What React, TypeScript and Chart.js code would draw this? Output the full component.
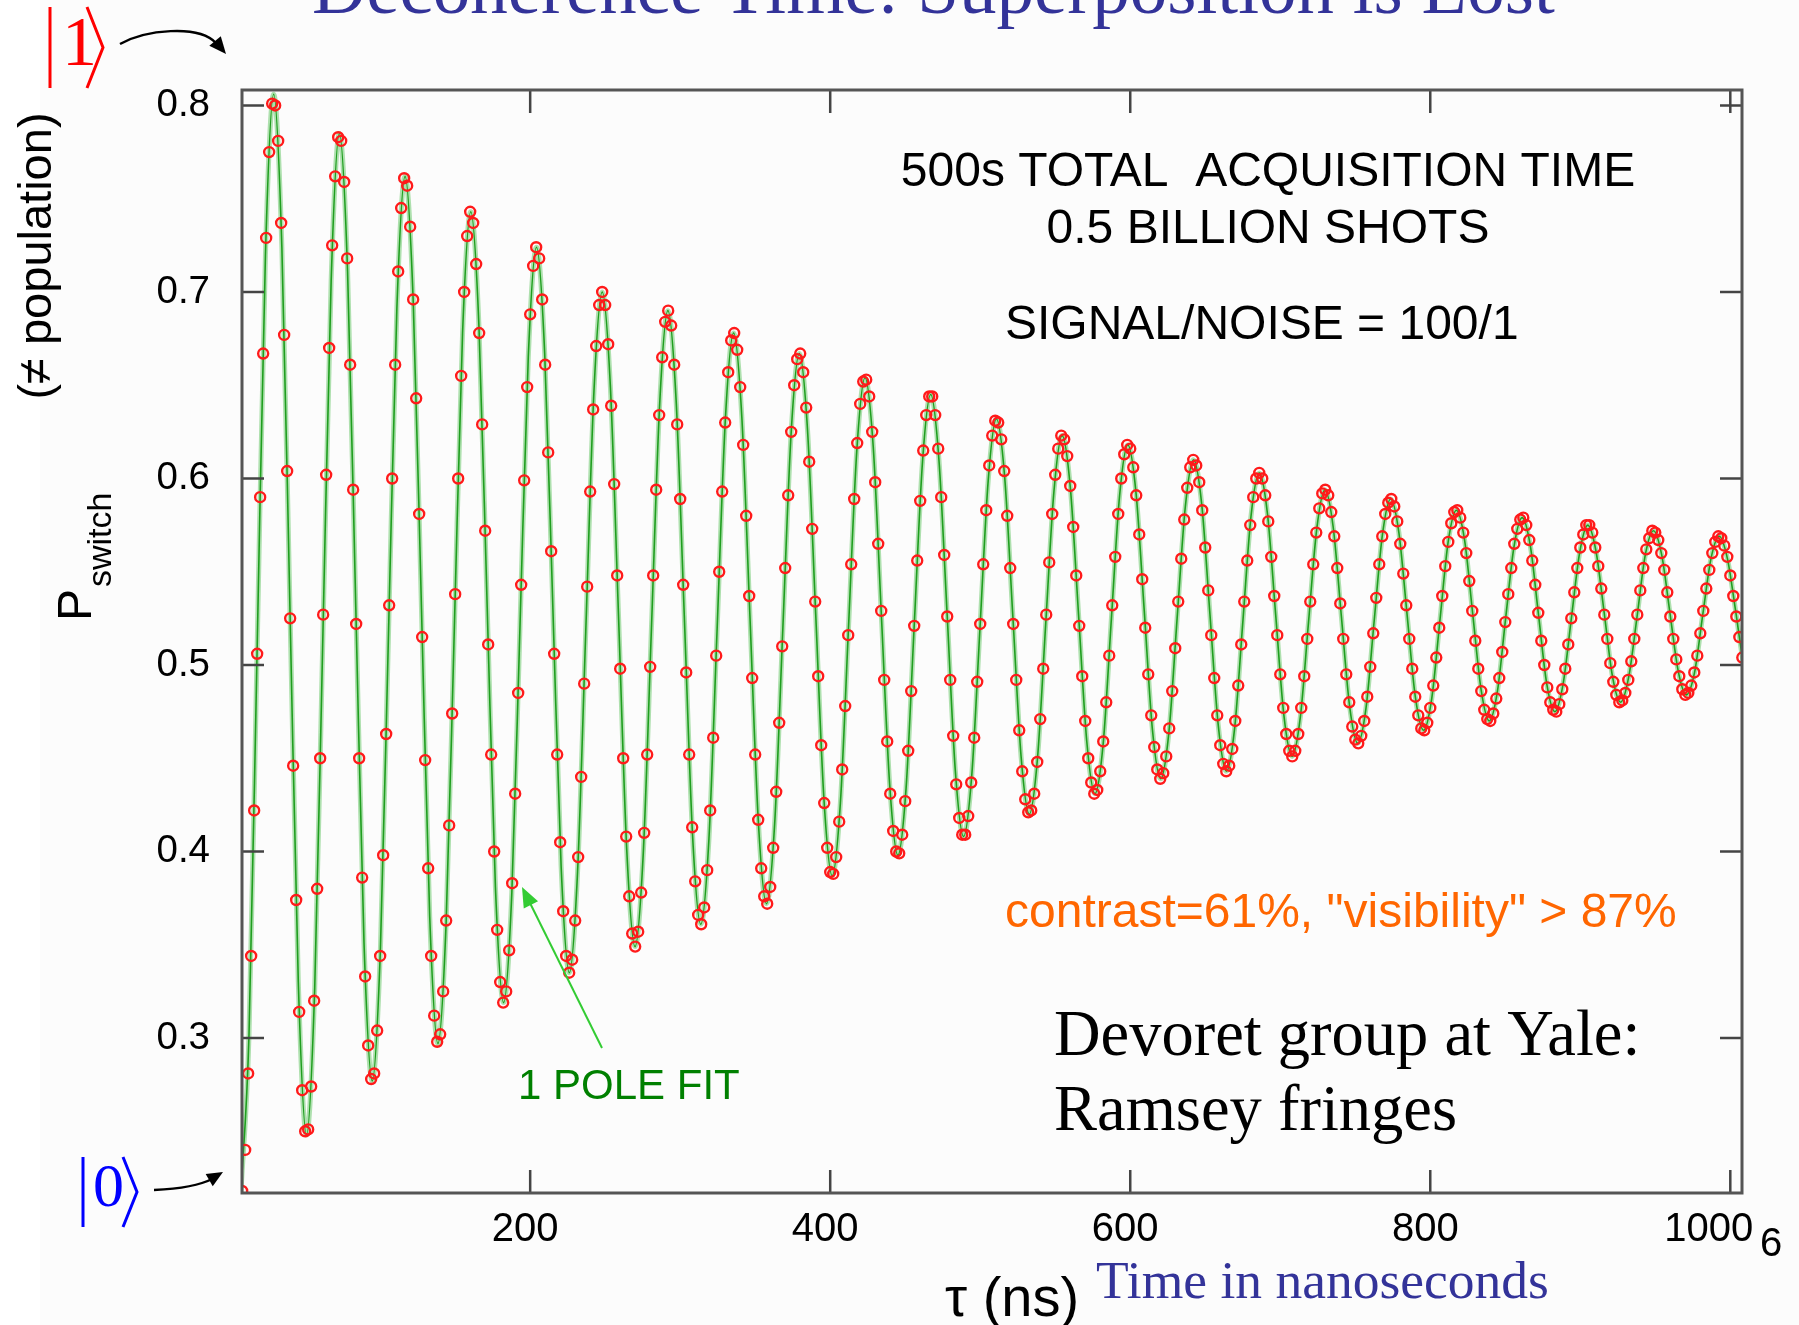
import React, { useEffect, useRef } from "react";
import { Chart, registerables } from "chart.js";

Chart.register(...registerables);

// Ramsey fringe measurement: delay tau (ns) and switching probability
const TAU_NS = [
  8, 10, 12, 14, 16, 18, 20, 22, 24, 26, 28, 30, 32, 34, 36, 38, 40, 42, 44, 46, 48, 50, 52, 54, 56,
  58, 60, 62, 64, 66, 68, 70, 72, 74, 76, 78, 80, 82, 84, 86, 88, 90, 92, 94, 96, 98, 100, 102, 104, 106,
  108, 110, 112, 114, 116, 118, 120, 122, 124, 126, 128, 130, 132, 134, 136, 138, 140, 142, 144, 146, 148, 150, 152, 154, 156,
  158, 160, 162, 164, 166, 168, 170, 172, 174, 176, 178, 180, 182, 184, 186, 188, 190, 192, 194, 196, 198, 200, 202, 204, 206,
  208, 210, 212, 214, 216, 218, 220, 222, 224, 226, 228, 230, 232, 234, 236, 238, 240, 242, 244, 246, 248, 250, 252, 254, 256,
  258, 260, 262, 264, 266, 268, 270, 272, 274, 276, 278, 280, 282, 284, 286, 288, 290, 292, 294, 296, 298, 300, 302, 304, 306,
  308, 310, 312, 314, 316, 318, 320, 322, 324, 326, 328, 330, 332, 334, 336, 338, 340, 342, 344, 346, 348, 350, 352, 354, 356,
  358, 360, 362, 364, 366, 368, 370, 372, 374, 376, 378, 380, 382, 384, 386, 388, 390, 392, 394, 396, 398, 400, 402, 404, 406,
  408, 410, 412, 414, 416, 418, 420, 422, 424, 426, 428, 430, 432, 434, 436, 438, 440, 442, 444, 446, 448, 450, 452, 454, 456,
  458, 460, 462, 464, 466, 468, 470, 472, 474, 476, 478, 480, 482, 484, 486, 488, 490, 492, 494, 496, 498, 500, 502, 504, 506,
  508, 510, 512, 514, 516, 518, 520, 522, 524, 526, 528, 530, 532, 534, 536, 538, 540, 542, 544, 546, 548, 550, 552, 554, 556,
  558, 560, 562, 564, 566, 568, 570, 572, 574, 576, 578, 580, 582, 584, 586, 588, 590, 592, 594, 596, 598, 600, 602, 604, 606,
  608, 610, 612, 614, 616, 618, 620, 622, 624, 626, 628, 630, 632, 634, 636, 638, 640, 642, 644, 646, 648, 650, 652, 654, 656,
  658, 660, 662, 664, 666, 668, 670, 672, 674, 676, 678, 680, 682, 684, 686, 688, 690, 692, 694, 696, 698, 700, 702, 704, 706,
  708, 710, 712, 714, 716, 718, 720, 722, 724, 726, 728, 730, 732, 734, 736, 738, 740, 742, 744, 746, 748, 750, 752, 754, 756,
  758, 760, 762, 764, 766, 768, 770, 772, 774, 776, 778, 780, 782, 784, 786, 788, 790, 792, 794, 796, 798, 800, 802, 804, 806,
  808, 810, 812, 814, 816, 818, 820, 822, 824, 826, 828, 830, 832, 834, 836, 838, 840, 842, 844, 846, 848, 850, 852, 854, 856,
  858, 860, 862, 864, 866, 868, 870, 872, 874, 876, 878, 880, 882, 884, 886, 888, 890, 892, 894, 896, 898, 900, 902, 904, 906,
  908, 910, 912, 914, 916, 918, 920, 922, 924, 926, 928, 930, 932, 934, 936, 938, 940, 942, 944, 946, 948, 950, 952, 954, 956,
  958, 960, 962, 964, 966, 968, 970, 972, 974, 976, 978, 980, 982, 984, 986, 988, 990, 992, 994, 996, 998, 1000, 1002, 1004, 1006,
  1008,
];

const P_SWITCH = [
  0.218, 0.240, 0.281, 0.344, 0.422, 0.506, 0.590, 0.667, 0.729, 0.775, 0.801,
  0.800, 0.781, 0.737, 0.677, 0.604, 0.525, 0.446, 0.374, 0.314, 0.272, 0.250,
  0.251, 0.274, 0.320, 0.380, 0.450, 0.527, 0.602, 0.670, 0.725, 0.762, 0.783,
  0.781, 0.759, 0.718, 0.661, 0.594, 0.522, 0.450, 0.386, 0.333, 0.296, 0.278,
  0.281, 0.304, 0.344, 0.398, 0.463, 0.532, 0.600, 0.661, 0.711, 0.745, 0.761,
  0.757, 0.735, 0.696, 0.643, 0.581, 0.515, 0.449, 0.391, 0.344, 0.312, 0.298,
  0.302, 0.325, 0.363, 0.414, 0.474, 0.538, 0.600, 0.655, 0.700, 0.730, 0.743,
  0.737, 0.715, 0.678, 0.629, 0.572, 0.511, 0.452, 0.400, 0.358, 0.330, 0.319,
  0.325, 0.347, 0.383, 0.431, 0.485, 0.543, 0.599, 0.649, 0.688, 0.714, 0.724,
  0.718, 0.696, 0.661, 0.614, 0.561, 0.506, 0.452, 0.405, 0.368, 0.344, 0.335,
  0.342, 0.363, 0.397, 0.440, 0.490, 0.542, 0.593, 0.637, 0.671, 0.693,
  0.700, 0.693, 0.672, 0.639, 0.597, 0.548, 0.498, 0.450, 0.408, 0.376, 0.356,
  0.349, 0.357, 0.378, 0.410, 0.452, 0.499, 0.548, 0.594, 0.634, 0.665, 0.684,
  0.690, 0.682, 0.661, 0.629, 0.589, 0.543, 0.496, 0.452, 0.413, 0.384, 0.366,
  0.361, 0.370, 0.390, 0.422, 0.461, 0.505, 0.550, 0.593, 0.630, 0.657, 0.674,
  0.678, 0.669, 0.649, 0.618, 0.580, 0.537, 0.493, 0.452, 0.417, 0.391, 0.376,
  0.372, 0.381, 0.402, 0.432, 0.469, 0.510, 0.552, 0.591, 0.625, 0.650, 0.664,
  0.667, 0.657, 0.638, 0.609, 0.573, 0.534, 0.494, 0.457, 0.426, 0.402, 0.389,
  0.388, 0.397, 0.416, 0.444, 0.478, 0.516, 0.554, 0.589, 0.619, 0.640, 0.652,
  0.653, 0.644, 0.625, 0.598, 0.565, 0.529, 0.492, 0.459, 0.431, 0.411, 0.400,
  0.399, 0.409, 0.427, 0.454, 0.486, 0.521, 0.556, 0.588, 0.615, 0.634, 0.644,
  0.644, 0.634, 0.616, 0.590, 0.559, 0.526, 0.492, 0.462, 0.436, 0.418, 0.409,
  0.409, 0.419, 0.437, 0.461, 0.491, 0.522, 0.554, 0.583, 0.607, 0.623, 0.631,
  0.630, 0.621, 0.604, 0.580, 0.552, 0.522, 0.492, 0.465, 0.443, 0.428, 0.421,
  0.422, 0.431, 0.448, 0.471, 0.498, 0.527, 0.555, 0.581, 0.602, 0.616, 0.623,
  0.621, 0.612, 0.596, 0.574, 0.548, 0.521, 0.494, 0.470, 0.450, 0.437, 0.431,
  0.433, 0.443, 0.459, 0.480, 0.505, 0.532, 0.558, 0.581, 0.600, 0.613, 0.618,
  0.616, 0.606, 0.591, 0.570, 0.546, 0.520, 0.495, 0.473, 0.456, 0.444, 0.439,
  0.442, 0.451, 0.466, 0.486, 0.509, 0.534, 0.557, 0.578, 0.595, 0.606, 0.610,
  0.607, 0.598, 0.583, 0.563, 0.540, 0.516, 0.493, 0.473, 0.457, 0.447, 0.443,
  0.446, 0.455, 0.470, 0.489, 0.511, 0.534, 0.556, 0.575, 0.590, 0.600,
  0.603, 0.600, 0.591, 0.577, 0.558, 0.537, 0.516, 0.495, 0.477, 0.463, 0.454,
  0.451, 0.454, 0.463, 0.477, 0.494, 0.514, 0.534, 0.554, 0.571, 0.584, 0.592,
  0.594, 0.591, 0.582, 0.569, 0.552, 0.533, 0.514, 0.495, 0.480, 0.467, 0.460,
  0.458, 0.462, 0.470, 0.483, 0.499, 0.517, 0.536, 0.554, 0.569, 0.581, 0.587,
  0.589, 0.585, 0.577, 0.565, 0.549, 0.532, 0.514, 0.498, 0.483, 0.473, 0.466,
  0.465, 0.469, 0.477, 0.489, 0.504, 0.520, 0.537, 0.553, 0.566, 0.576, 0.582,
  0.583, 0.579, 0.571, 0.560, 0.545, 0.529, 0.513, 0.498, 0.486, 0.476, 0.471,
  0.470, 0.474, 0.482, 0.493, 0.507, 0.523, 0.538, 0.552, 0.565, 0.573, 0.578,
  0.579, 0.575, 0.567, 0.556, 0.543, 0.528, 0.513, 0.500, 0.488, 0.480, 0.476,
  0.475, 0.479, 0.487, 0.498, 0.511, 0.525, 0.539, 0.552, 0.563, 0.570, 0.575,
  0.575, 0.571, 0.563, 0.553, 0.541, 0.527, 0.514, 0.501, 0.491, 0.484, 0.480,
  0.481, 0.485, 0.492, 0.502, 0.514, 0.527, 0.540, 0.552, 0.562, 0.568, 0.572,
  0.571, 0.567, 0.560, 0.551, 0.539, 0.526, 0.514, 0.503, 0.494, 0.487, 0.484,
  0.485, 0.489, 0.496, 0.505, 0.517, 0.529, 0.541, 0.551, 0.560, 0.566, 0.569,
  0.568, 0.564, 0.558, 0.548, 0.537, 0.526, 0.515, 0.504,
];

// "1 pole fit" curve, read at its extrema and the points between them
const FIT_TAU_NS = [
  7.1, 12.58, 18.05, 23.53, 29.0, 34.48, 39.95, 45.43, 50.9, 56.38, 61.85, 67.33,
  72.8, 78.28, 83.75, 89.23, 94.7, 100.18, 105.65, 111.13, 116.6, 122.08, 127.55, 133.03,
  138.5, 143.98, 149.45, 154.93, 160.4, 165.88, 171.35, 176.83, 182.3, 187.78, 193.25, 198.73,
  204.2, 209.68, 215.15, 220.63, 226.1, 231.58, 237.05, 242.53, 248.0, 253.48, 258.95, 264.43,
  269.9, 275.38, 280.85, 286.33, 291.8, 297.28, 302.75, 308.23, 313.7, 319.18, 324.65, 330.13,
  335.6, 341.08, 346.55, 352.03, 357.5, 362.98, 368.45, 373.93, 379.4, 384.88, 390.35, 395.83,
  401.3, 406.78, 412.25, 417.73, 423.2, 428.68, 434.15, 439.63, 445.1, 450.58, 456.05, 461.53,
  467.0, 472.48, 477.95, 483.43, 488.9, 494.38, 499.85, 505.33, 510.8, 516.28, 521.75, 527.23,
  532.7, 538.18, 543.65, 549.13, 554.6, 560.08, 565.55, 571.03, 576.5, 581.98, 587.45, 592.93,
  598.4, 603.88, 609.35, 614.83, 620.3, 625.78, 631.25, 636.73, 642.2, 647.68, 653.15, 658.63,
  664.1, 669.58, 675.05, 680.53, 686.0, 691.48, 696.95, 702.43, 707.9, 713.38, 718.85, 724.33,
  729.8, 735.28, 740.75, 746.23, 751.7, 757.18, 762.65, 768.13, 773.6, 779.08, 784.55, 790.03,
  795.5, 800.98, 806.45, 811.93, 817.4, 822.88, 828.35, 833.83, 839.3, 844.78, 850.25, 855.73,
  861.2, 866.68, 872.15, 877.63, 883.1, 888.58, 894.05, 899.53, 905.0, 910.48, 915.95, 921.43,
  926.9, 932.38, 937.85, 943.33, 948.8, 954.28, 959.75, 965.23, 970.7, 976.18, 981.65, 987.13,
  992.6, 998.08, 1003.55, 1009.03, 1014.5,
];

const FIT_P_SWITCH = [
  0.216, 0.302, 0.511, 0.720, 0.806, 0.724, 0.527, 0.330, 0.248, 0.327, 0.517, 0.706,
  0.785, 0.711, 0.531, 0.351, 0.277, 0.348, 0.520, 0.691, 0.762, 0.694, 0.530, 0.365,
  0.297, 0.362, 0.520, 0.678, 0.743, 0.681, 0.531, 0.381, 0.319, 0.378, 0.522, 0.665,
  0.724, 0.667, 0.530, 0.392, 0.335, 0.389, 0.518, 0.647, 0.700, 0.649, 0.525, 0.400,
  0.349, 0.399, 0.520, 0.640, 0.690, 0.642, 0.526, 0.409, 0.361, 0.407, 0.520, 0.632,
  0.678, 0.633, 0.525, 0.417, 0.372, 0.415, 0.520, 0.624, 0.667, 0.626, 0.527, 0.428,
  0.387, 0.426, 0.521, 0.615, 0.654, 0.617, 0.526, 0.436, 0.398, 0.434, 0.522, 0.609,
  0.645, 0.610, 0.527, 0.443, 0.408, 0.441, 0.520, 0.599, 0.632, 0.601, 0.526, 0.451,
  0.420, 0.450, 0.522, 0.593, 0.623, 0.595, 0.527, 0.459, 0.431, 0.458, 0.525, 0.591,
  0.618, 0.592, 0.529, 0.465, 0.439, 0.464, 0.525, 0.585, 0.610, 0.586, 0.527, 0.468,
  0.443, 0.466, 0.523, 0.580, 0.603, 0.581, 0.527, 0.473, 0.451, 0.472, 0.523, 0.573,
  0.594, 0.574, 0.526, 0.478, 0.458, 0.477, 0.524, 0.570, 0.589, 0.571, 0.527, 0.483,
  0.465, 0.482, 0.524, 0.566, 0.583, 0.567, 0.527, 0.487, 0.470, 0.486, 0.525, 0.563,
  0.579, 0.564, 0.527, 0.490, 0.475, 0.490, 0.525, 0.560, 0.575, 0.561, 0.528, 0.494,
  0.480, 0.494, 0.526, 0.559, 0.572, 0.559, 0.528, 0.497, 0.484, 0.496, 0.527, 0.557,
  0.569, 0.557, 0.529, 0.500, 0.488,
];

const X_TICKS = [200, 400, 600, 800, 1000];
const Y_TICKS = [0.3, 0.4, 0.5, 0.6, 0.7, 0.8];
const X_MIN = 7.9;
const X_MAX = 1007.8;
const Y_MIN = 0.2169;
const Y_MAX = 0.8083;

const SANS = '"Liberation Sans", Arial, Helvetica, sans-serif';
const SERIF = '"Liberation Serif", "Times New Roman", serif';

function arrowHead(ctx: CanvasRenderingContext2D, tipX: number, tipY: number, dx: number, dy: number, len: number, half: number) {
  const n = Math.hypot(dx, dy);
  const ux = dx / n;
  const uy = dy / n;
  const bx = tipX - ux * len;
  const by = tipY - uy * len;
  ctx.beginPath();
  ctx.moveTo(tipX, tipY);
  ctx.lineTo(bx - uy * half, by + ux * half);
  ctx.lineTo(bx + uy * half, by - ux * half);
  ctx.closePath();
  ctx.fill();
}

export default function App() {
  const ref = useRef<HTMLCanvasElement | null>(null);

  useEffect(() => {
    const canvas = ref.current;
    if (!canvas) return;

    const decor = {
      id: "decor",
      beforeDraw(chart: any) {
        const ctx = chart.ctx;
        ctx.save();
        ctx.fillStyle = "#ffffff";
        ctx.fillRect(0, 0, chart.width, chart.height);
        ctx.fillStyle = "#fcfcfc";
        ctx.fillRect(40, 0, chart.width - 40, chart.height);
        ctx.restore();
      },
      afterDatasetsDraw(chart: any) {
        const ctx = chart.ctx;
        const { left, right, top, bottom } = chart.chartArea;
        const xs = chart.scales.x;
        const ys = chart.scales.y;
        ctx.save();
        ctx.strokeStyle = "#444444";
        ctx.lineWidth = 2.5;
        ctx.beginPath();
        for (const v of X_TICKS) {
          const px = xs.getPixelForValue(v);
          ctx.moveTo(px, bottom);
          ctx.lineTo(px, bottom - 23);
          ctx.moveTo(px, top);
          ctx.lineTo(px, top + 23);
        }
        for (const v of Y_TICKS) {
          const py = ys.getPixelForValue(v);
          ctx.moveTo(left, py);
          ctx.lineTo(left + 22, py);
          ctx.moveTo(right, py);
          ctx.lineTo(right - 22, py);
        }
        ctx.stroke();
        ctx.strokeStyle = "#555555";
        ctx.lineWidth = 3;
        ctx.strokeRect(left, top, right - left, bottom - top);
        ctx.restore();
      },
      afterDraw(chart: any) {
        const ctx: CanvasRenderingContext2D = chart.ctx;
        ctx.save();
        ctx.textBaseline = "alphabetic";

        // slide title (cut at the top edge)
        ctx.fillStyle = "#333399";
        ctx.font = `75px ${SERIF}`;
        ctx.textAlign = "left";
        ctx.fillText("Decoherence Time: Superposition is Lost", 312, 13);

        // |1> ket
        ctx.strokeStyle = "#ff0000";
        ctx.fillStyle = "#ff0000";
        ctx.lineWidth = 3;
        ctx.beginPath();
        ctx.moveTo(50, 7);
        ctx.lineTo(50, 88);
        ctx.moveTo(87, 7);
        ctx.lineTo(103, 47.5);
        ctx.lineTo(87, 88);
        ctx.stroke();
        ctx.font = `70px ${SERIF}`;
        ctx.fillText("1", 62, 65);

        // |0> ket
        ctx.strokeStyle = "#0000ff";
        ctx.fillStyle = "#0000ff";
        ctx.beginPath();
        ctx.moveTo(83, 1157);
        ctx.lineTo(83, 1227);
        ctx.moveTo(123, 1157);
        ctx.lineTo(137, 1192);
        ctx.lineTo(123, 1227);
        ctx.stroke();
        ctx.font = `62px ${SERIF}`;
        ctx.fillText("0", 93, 1206);

        // black arrows to the corners
        ctx.strokeStyle = "#000000";
        ctx.fillStyle = "#000000";
        ctx.lineWidth = 2.5;
        ctx.beginPath();
        ctx.moveTo(120, 44);
        ctx.bezierCurveTo(145, 30, 198, 24, 216, 43);
        ctx.stroke();
        arrowHead(ctx, 226, 54, 16, 19, 17, 7.5);
        ctx.beginPath();
        ctx.moveTo(154, 1190);
        ctx.quadraticCurveTo(195, 1188, 212, 1179);
        ctx.stroke();
        arrowHead(ctx, 223, 1172, 17, -10, 16, 7);

        // y-axis titles (rotated)
        ctx.fillStyle = "#000000";
        ctx.save();
        ctx.translate(51, 256);
        ctx.rotate(-Math.PI / 2);
        ctx.textAlign = "center";
        ctx.font = `47px ${SANS}`;
        ctx.fillText("(\u2260 population)", 0, 0);
        ctx.restore();

        ctx.save();
        ctx.translate(91, 621);
        ctx.rotate(-Math.PI / 2);
        ctx.textAlign = "left";
        ctx.font = `48px ${SANS}`;
        ctx.fillText("P", 0, 0);
        const pw = ctx.measureText("P").width;
        ctx.font = `34px ${SANS}`;
        ctx.fillText("switch", pw + 2, 20);
        ctx.restore();

        // annotations inside the plot
        ctx.font = `48px ${SANS}`;
        ctx.textAlign = "center";
        ctx.fillText("500s TOTAL  ACQUISITION TIME", 1268, 186);
        ctx.fillText("0.5 BILLION SHOTS", 1268, 243);
        ctx.textAlign = "left";
        ctx.fillText("SIGNAL/NOISE = 100/1", 1005, 339);

        ctx.fillStyle = "#ff6600";
        ctx.fillText('contrast=61%, "visibility" > 87%', 1005, 927);

        ctx.fillStyle = "#000000";
        ctx.font = `64.5px ${SERIF}`;
        ctx.fillText("Devoret group at Yale:", 1054, 1055);
        ctx.fillText("Ramsey fringes", 1054, 1130);

        ctx.fillStyle = "#008000";
        ctx.font = `42px ${SANS}`;
        ctx.fillText("1 POLE FIT", 518, 1099);

        ctx.strokeStyle = "#33cc33";
        ctx.fillStyle = "#33cc33";
        ctx.lineWidth = 2;
        ctx.beginPath();
        ctx.moveTo(602, 1048);
        ctx.lineTo(530, 903);
        ctx.stroke();
        arrowHead(ctx, 522, 887, -80, -161, 20, 8);

        // x-axis titles
        ctx.fillStyle = "#000000";
        ctx.font = `56px ${SANS}`;
        ctx.fillText("\u03c4 (ns)", 945, 1316);
        ctx.fillStyle = "#333399";
        ctx.font = `53.5px ${SERIF}`;
        ctx.fillText("Time in nanoseconds", 1096, 1298);
        ctx.fillStyle = "#000000";
        ctx.font = `40px ${SANS}`;
        ctx.fillText("6", 1760, 1256);

        ctx.restore();
      },
    };

    const chart = new Chart(canvas, {
      type: "line",
      data: {
        datasets: [
          {
            label: "P switch",
            data: TAU_NS.map((x, i) => ({ x, y: P_SWITCH[i] })),
            showLine: false,
            pointRadius: 5,
            pointBorderWidth: 2.4,
            pointBorderColor: "#ff1a1a",
            pointBackgroundColor: "rgba(0,0,0,0)",
            borderColor: "#ff1a1a",
            order: 0,
          },
          {
            label: "1 pole fit",
            data: FIT_TAU_NS.map((x, i) => ({ x, y: FIT_P_SWITCH[i] })),
            borderColor: "#1f9e1f",
            borderWidth: 1.6,
            pointRadius: 0,
            cubicInterpolationMode: "monotone",
            order: 1,
          },
          {
            label: "1 pole fit halo",
            data: FIT_TAU_NS.map((x, i) => ({ x, y: FIT_P_SWITCH[i] })),
            borderColor: "rgba(110,200,110,0.55)",
            borderWidth: 5,
            pointRadius: 0,
            cubicInterpolationMode: "monotone",
            order: 2,
          },
        ],
      },
      options: {
        responsive: false,
        animation: false,
        events: [],
        layout: { padding: { left: 0, top: 90, right: 57, bottom: 0 } },
        plugins: { legend: { display: false }, tooltip: { enabled: false }, title: { display: false } },
        scales: {
          x: {
            type: "linear",
            min: X_MIN,
            max: X_MAX,
            afterFit: (s: any) => {
              s.height = 132;
              s.paddingLeft = 0;
              s.paddingRight = 0;
            },
            afterBuildTicks: (s: any) => {
              s.ticks = X_TICKS.map((v) => ({ value: v }));
            },
            grid: { display: false, drawTicks: false },
            border: { display: false },
            ticks: {
              color: "#000000",
              font: { family: SANS, size: 40 },
              padding: 13,
              labelOffset: -5,
              maxRotation: 0,
              minRotation: 0,
              autoSkip: false,
              callback: (v: any) => (Number(v) === 1000 ? "1000   " : String(v)),
            },
          },
          y: {
            type: "linear",
            min: Y_MIN,
            max: Y_MAX,
            afterFit: (s: any) => {
              s.width = 242;
              s.paddingTop = 0;
              s.paddingBottom = 0;
            },
            afterBuildTicks: (s: any) => {
              s.ticks = Y_TICKS.map((v) => ({ value: v }));
            },
            grid: { display: false, drawTicks: false },
            border: { display: false },
            ticks: {
              color: "#000000",
              font: { family: SANS, size: 38.5 },
              padding: 32,
              autoSkip: false,
              callback: (v: any) => Number(v).toFixed(1),
            },
          },
        },
      },
      plugins: [decor],
    } as any);

    return () => chart.destroy();
  }, []);

  return (
    <div style={{ position: "absolute", left: 0, top: 0, width: 1799, height: 1325, background: "#ffffff" }}>
      <canvas ref={ref} width={1799} height={1325} style={{ display: "block" }} />
    </div>
  );
}
